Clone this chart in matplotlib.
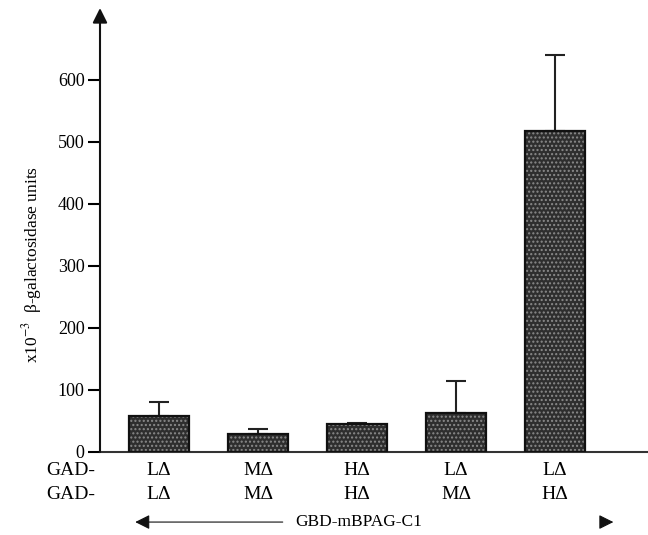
import matplotlib
matplotlib.use("Agg")
import matplotlib.pyplot as plt
import numpy as np

plt.rcParams['font.family'] = ['Liberation Serif', 'DejaVu Serif']
plt.rcParams['mathtext.fontset'] = 'stix'

# data
top_labels = ['LΔ', 'MΔ', 'HΔ', 'LΔ', 'LΔ']
bottom_labels = ['LΔ', 'MΔ', 'HΔ', 'MΔ', 'HΔ']
values = [58, 29, 45, 63, 517]
err_top = [80, 37, 47, 114, 641]
yticks = [0, 100, 200, 300, 400, 500, 600]

x = np.arange(len(values))
err = np.array(err_top) - np.array(values)

fig = plt.figure(figsize=(6.48, 5.35), dpi=100)
ax = fig.add_axes([100 / 648, 83 / 535, 548 / 648, 452 / 535])

# textured fill: dark face with a light speckle hatch, then a black outline
ax.bar(x, values, width=0.6, color='#2e2e2e', edgecolor='#8a8a8a',
       hatch='....', linewidth=0, zorder=2)
ax.bar(x, values, width=0.6, fill=False, edgecolor='#111111',
       linewidth=1.6, zorder=3)
ax.errorbar(x, values, yerr=[np.zeros_like(err), err], fmt='none',
            ecolor='#222222', elinewidth=1.5, capsize=7, capthick=1.5, zorder=1)

ax.set_xlim(-0.596, 4.94)
ax.set_ylim(0, 729)
ax.set_yticks(yticks)
ax.set_xticks([])
ax.tick_params(axis='y', direction='out', length=9, width=1.5, labelsize=13, pad=2)

for s in ['top', 'right', 'left']:
    ax.spines[s].set_visible(False)
ax.spines['bottom'].set_linewidth(1.5)
ax.spines['bottom'].set_color('#333333')

# y axis with arrow head
ax.annotate('', xy=(-0.596, 716), xytext=(-0.596, 0),
            arrowprops=dict(arrowstyle='-|>', mutation_scale=22, lw=1.5,
                            color='#111111', shrinkA=0, shrinkB=0),
            annotation_clip=False)

# category labels below the axis
tr = ax.get_xaxis_transform()
for xi, a, b in zip(x, top_labels, bottom_labels):
    ax.text(xi, -0.040, a, transform=tr, ha='center', va='center', fontsize=14)
    ax.text(xi, -0.093, b, transform=tr, ha='center', va='center', fontsize=14)
ax.text(-0.646, -0.040, 'GAD-', transform=tr, ha='right', va='center', fontsize=14)
ax.text(-0.646, -0.093, 'GAD-', transform=tr, ha='right', va='center', fontsize=14)

ax.text(2.02, -0.155, 'GBD-mBPAG-C1', transform=tr, ha='center', va='center', fontsize=12.5)
ax.annotate('', xy=(-0.24, -0.155), xytext=(1.25, -0.155), xycoords=tr, textcoords=tr,
            arrowprops=dict(arrowstyle='-|>', mutation_scale=22, lw=0.8,
                            color='#111111', shrinkA=0, shrinkB=0),
            annotation_clip=False)
ax.annotate('', xy=(4.59, -0.155), xytext=(4.52, -0.155), xycoords=tr, textcoords=tr,
            arrowprops=dict(arrowstyle='-|>', mutation_scale=22, lw=0.8,
                            color='#111111', shrinkA=0, shrinkB=0),
            annotation_clip=False)

fig.text(32 / 648, 1 - 265 / 535, r'x10$^{-3}$  β-galactosidase units',
         rotation=90, ha='center', va='center', fontsize=12.5)

fig.savefig('out.png', dpi=100)
